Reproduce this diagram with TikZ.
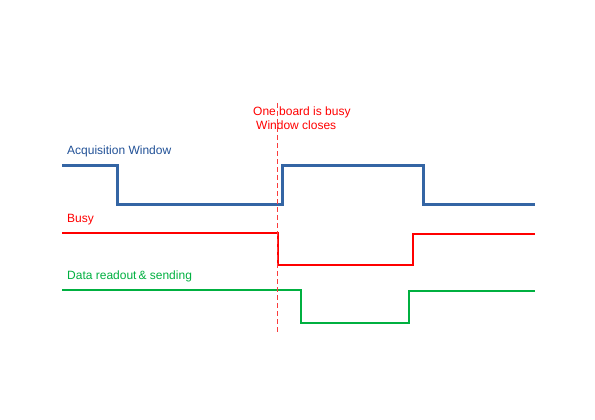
\documentclass[tikz,border=0pt]{standalone}
\usepackage{fontspec}
\setmainfont{Liberation Sans}
\definecolor{acqblue}{RGB}{52,101,164}
\definecolor{acqtext}{RGB}{32,80,150}
\definecolor{busyred}{RGB}{255,0,0}
\definecolor{datagreen}{RGB}{0,176,64}
\definecolor{markerred}{RGB}{250,60,60}
\begin{document}
\begin{tikzpicture}[x=1pt,y=-1pt,
  lbl/.style={anchor=base west,inner sep=0pt,font=\fontsize{12}{14}\selectfont},
  wave/.style={line join=miter,line cap=butt},
  marker/.style={draw=markerred,line width=1.2pt,dash pattern=on 5pt off 3pt}]
\useasboundingbox (0,0) rectangle (595,420);
% Acquisition window
\draw[wave,acqblue,line width=3pt] (62,165.5) -- (117.5,165.5) -- (117.5,204.5) -- (282.5,204.5) -- (282.5,165.5) -- (423.5,165.5) -- (423.5,204.5) -- (535,204.5);
% Busy
\draw[wave,busyred,line width=2pt] (62,233) -- (278,233) -- (278,265) -- (413,265) -- (413,234) -- (535,234);
% Data readout
\draw[wave,datagreen,line width=2pt] (62,290) -- (301,290) -- (301,323) -- (409,323) -- (409,291) -- (535,291);
% dashed marker
\coordinate (mtop) at (277.5,103);
\coordinate (mbot) at (277.5,332);
\draw[marker] (mtop) -- (mbot);
% labels
\node[lbl,text=acqtext] (acq) at (67,154) {Acquisition Window};
\node[lbl,text=busyred] (busy) at (67,222) {Busy};
\node[lbl,text=datagreen] (data) at (67,279) {Data readout\,\& sending};
\node[lbl,text=busyred] (one) at (253,116) {One board is busy};
\node[lbl,text=busyred] (win) at (256,129.5) {Window closes};
\end{tikzpicture}
\end{document}
